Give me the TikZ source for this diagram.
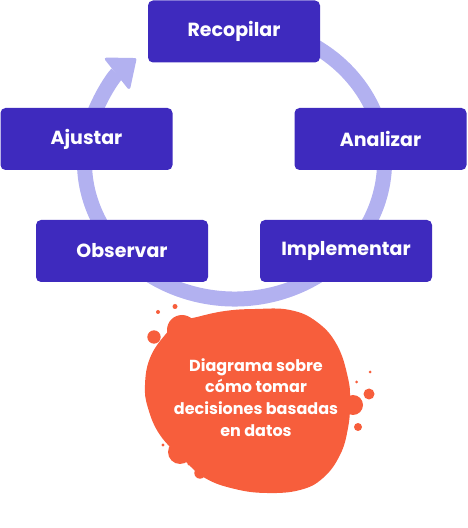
\documentclass[tikz,border=0pt]{standalone}
\usepackage{fontspec}
\setmainfont{Poppins}
\usetikzlibrary{arrows.meta}
\definecolor{stepblue}{RGB}{62,42,190}
\definecolor{ringlav}{RGB}{178,177,240}
\definecolor{blobred}{RGB}{247,94,60}
\tikzset{
  stepbox/.style={fill=stepblue, rounded corners=5pt, minimum width=172pt, minimum height=62pt,
    text=white, font=\fontsize{19}{23}\selectfont\bfseries, inner sep=0pt},
  dot/.style={fill=blobred, draw=none}
}
\begin{document}
\begin{tikzpicture}[x=1pt, y=1pt]
            \useasboundingbox (0,0) rectangle (467,528);
            % cycle ring
            \draw[line width=15pt, ringlav, -{Triangle[length=26pt, width=42pt, line width=3pt, round]}]
                (234.5,366) ++(75:150 and 137) arc[start angle=75, end angle=-229, x radius=150, y radius=137];
            % steps
            \node[stepbox] (recopilar) at (234,496.5) {Recopilar};
            \node[stepbox] (ajustar) at (86.5,389) {Ajustar};
            \node[stepbox] (analizar) at (380.5,389) {Analizar};
            \node[stepbox] (observar) at (122,277) {Observar};
            \node[stepbox] (implementar) at (346,277) {Implementar};
            % blob
            \fill[blobred] plot[smooth cycle, tension=0.7] coordinates {
                (197,211) (225,217) (255,219) (290,218) (317,206) (337,183) (348,150)
                (350,126) (348,100) (340,73) (323,50) (300,38) (267,35) (235,39)
                (205,50) (182,70) (160,93) (148,120) (145,143) (150,170) (165,193) (180,206)};
            \fill[dot] (182,198) circle (15);
            \fill[dot] (180,76) circle (12);
            \fill[dot] (353,123) circle (10);
            \fill[dot] (158,216) circle (2);
            \fill[dot] (175,221.5) circle (2.5);
            \fill[dot] (154,191) circle (6.7);
            \fill[dot] (370,156) circle (1.5);
            \fill[dot] (356.5,146) circle (1.5);
            \fill[dot] (369,134) circle (5.5);
            \fill[dot] (358,101) circle (4);
            \fill[dot] (163,83) circle (1.7);
            \fill[dot] (189,64) circle (1.7);
            \fill[dot] (200,55) circle (5.7);
            \node[text=white, align=center, font=\fontsize{16}{21.7}\selectfont\bfseries] (titulo) at (256,130.5)
                {Diagrama sobre\\cómo tomar\\decisiones basadas\\en datos};
\end{tikzpicture}
\end{document}
